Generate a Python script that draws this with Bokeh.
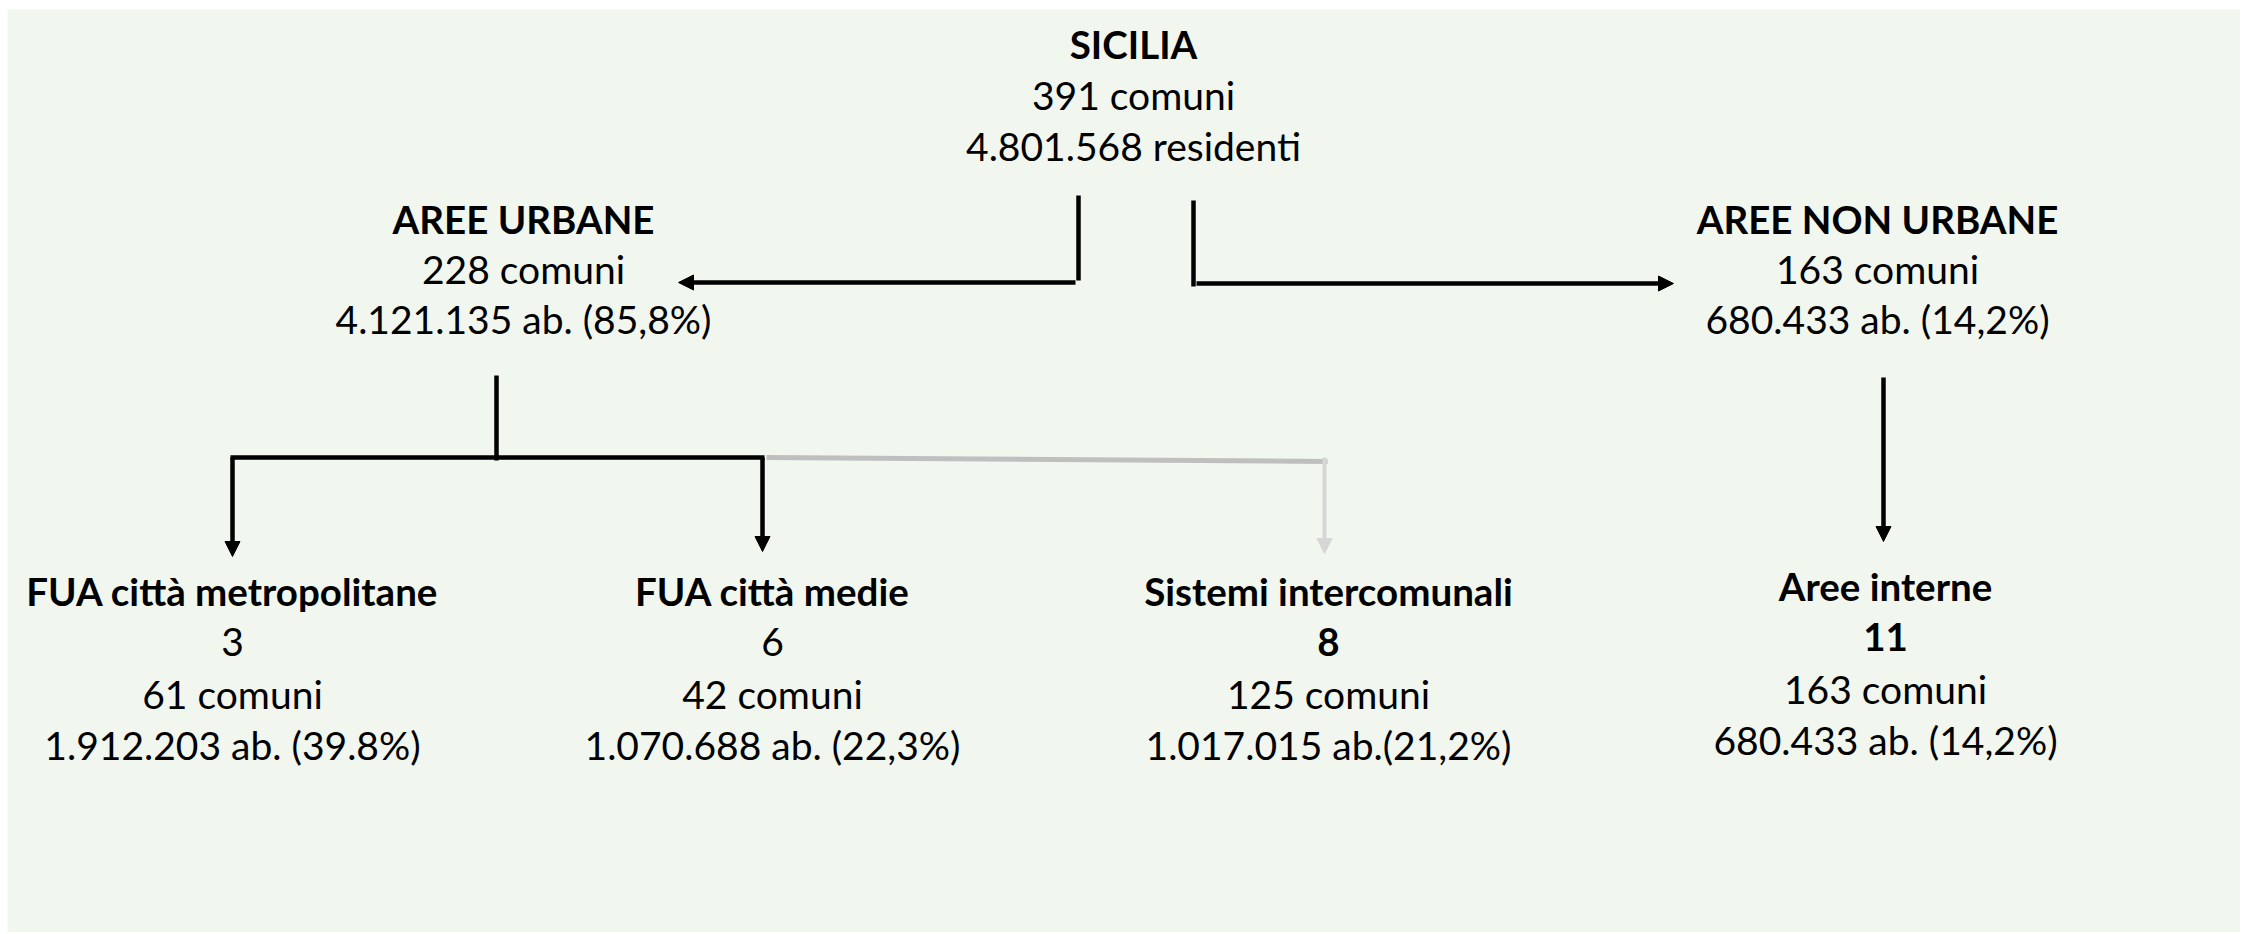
from bokeh.plotting import figure
from bokeh.models import ColumnDataSource, Range1d, Arrow, NormalHead
from bokeh.core.properties import value, field
from bokeh.embed import file_html
from bokeh.resources import INLINE

# ---------------- data ----------------
titles = ["SICILIA", "AREE URBANE", "AREE NON URBANE",
          "FUA città metropolitane", "FUA città medie",
          "Sistemi intercomunali", "Aree interne"]
n_sistemi = ["", "", "", "3", "6", "8", "11"]
n_sistemi_bold = [False, False, False, False, False, True, True]
comuni = [391, 228, 163, 61, 42, 125, 163]
abitanti_labels = ["4.801.568 residenti", "4.121.135 ab. (85,8%)", "680.433 ab. (14,2%)",
                   "1.912.203 ab. (39.8%)", "1.070.688 ab. (22,3%)",
                   "1.017.015 ab.(21,2%)", "680.433 ab. (14,2%)"]

# ---------------- layout (page pixels) ----------------
W, H = 2240, 932
LEFT, TOP = 7, 9
node_x = [1133, 523, 1877, 232, 772, 1328, 1885]
node_center = [45, 220, 220, 592, 592, 592, 587]   # cap-middle of first line
gap = [51, 50, 50, 51.5, 51.5, 51.5, 51.5]
base_off = -2

BG = "#F1F6EE"
FONT = "Lato"

p = figure(width=W, height=H, x_range=Range1d(LEFT, W), y_range=Range1d(H, TOP),
           x_axis_type=None, y_axis_type=None, toolbar_location=None,
           output_backend="svg", title=None,
           min_border_left=LEFT, min_border_top=TOP, min_border_right=0, min_border_bottom=0)
p.background_fill_color = BG
p.border_fill_color = "white"
p.outline_line_color = None
p.grid.visible = False

xs, ys, texts, styles, sizes = [], [], [], [], []
for i, t in enumerate(titles):
    rows = [(t, "bold")]
    if n_sistemi[i]:
        rows.append((n_sistemi[i], "bold" if n_sistemi_bold[i] else "normal"))
    rows.append((f"{comuni[i]} comuni", "normal"))
    rows.append((abitanti_labels[i], "normal"))
    for k, (txt, st) in enumerate(rows):
        xs.append(node_x[i])
        ys.append(node_center[i] + k * gap[i] + base_off)
        texts.append(txt)
        styles.append(st)
        sizes.append("38.5px" if st == "bold" else "39px")

src = ColumnDataSource(dict(x=xs, y=ys, text=texts, style=styles, size=sizes))
p.text(x="x", y="y", text="text", source=src, text_font=value(FONT),
       text_font_size=field("size"), text_font_style=field("style"),
       text_align="center", text_baseline="alphabetic", text_color="#000000")

# ---------------- connectors ----------------
LW = 4.5
seg_black = dict(x0=[1078, 1193, 496, 230],
                 y0=[195, 200, 375, 457],
                 x1=[1078, 1193, 496, 764],
                 y1=[280, 286, 460, 457])
p.segment(x0="x0", y0="y0", x1="x1", y1="y1", source=ColumnDataSource(seg_black),
          line_color="black", line_width=LW, line_cap="butt")
p.segment(x0=[766], y0=[457], x1=[1327], y1=[461], line_color="#BFBFBF",
          line_width=5, line_cap="butt")

arr_black = ColumnDataSource(dict(
    xs=[1075, 1196, 232, 762, 1883],
    ys=[282, 283, 457, 457, 377],
    xe=[678, 1673, 232, 762, 1883],
    ye=[282, 283, 556, 551, 541]))
p.add_layout(Arrow(end=NormalHead(size=15, fill_color="black", line_color="black", line_width=1),
                   x_start="xs", y_start="ys", x_end="xe", y_end="ye", source=arr_black,
                   line_color="black", line_width=LW))
arr_grey = ColumnDataSource(dict(xs=[1324], ys=[457], xe=[1324], ye=[553]))
p.add_layout(Arrow(end=NormalHead(size=15, fill_color="#D6D6D6", line_color="#D6D6D6", line_width=1),
                   x_start="xs", y_start="ys", x_end="xe", y_end="ye", source=arr_grey,
                   line_color="#D6D6D6", line_width=4))

open("out.html", "w").write(file_html(p, INLINE))
